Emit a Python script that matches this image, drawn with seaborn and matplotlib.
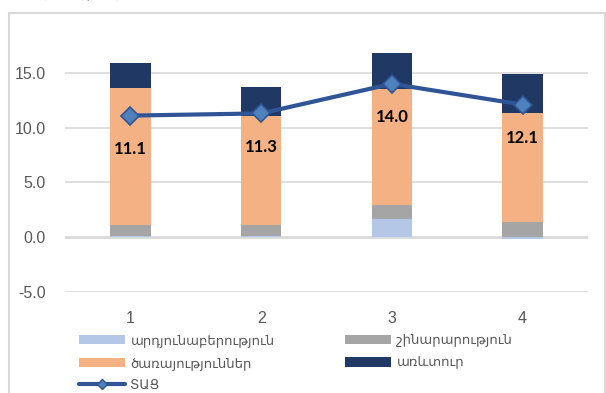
import numpy as np
import matplotlib
matplotlib.use("Agg")
import matplotlib.pyplot as plt
from matplotlib.patches import Patch, Rectangle
from matplotlib.lines import Line2D
import seaborn as sns

# Contributions by sector (percentage points) and the overall index
categories = ["1", "2", "3", "4"]
industry = [0.15, 0.1, 1.7, -0.2]
construction = [0.98, 1.0, 1.2, 1.35]
services = [12.5, 10.0, 10.6, 9.95]
trade = [2.27, 2.6, 3.3, 3.6]
tac = [11.1, 11.3, 14.0, 12.1]

series_names = ["արդյունաբերություն", "շինարարություն", "ծառայություններ", "առևտուր"]
line_name = "ՏԱՑ"
colors = ["#B4C7E7", "#A5A5A5", "#F4B183", "#203864"]
line_color = "#2F5597"
marker_face = "#4F81BD"
text_gray = "#595959"
grid_gray = "#D9D9D9"

sns.set_theme(style="white")
plt.rcParams["font.family"] = ["Liberation Sans", "DejaVu Sans"]

fig = plt.figure(figsize=(6.06, 3.93), dpi=100)
ax = fig.add_axes([65 / 606, 101 / 393, 523 / 606, 252 / 393])

# Stack positive values upward and negative values downward from zero
pos_base = np.zeros(len(categories))
neg_base = np.zeros(len(categories))
for vals, col in zip([industry, construction, services, trade], colors):
    vals = np.asarray(vals, dtype=float)
    bottoms = np.where(vals >= 0, pos_base, neg_base)
    sns.barplot(x=categories, y=vals, bottom=bottoms, color=col, width=0.31,
                order=categories, saturation=1, linewidth=0, ax=ax, zorder=3)
    pos_base = pos_base + np.where(vals >= 0, vals, 0)
    neg_base = neg_base + np.where(vals < 0, vals, 0)

xpos = np.arange(len(categories))
sns.lineplot(x=xpos, y=tac, color=line_color, lw=3, marker="D", markersize=9.5,
             markerfacecolor=marker_face, markeredgecolor=line_color,
             markeredgewidth=1.2, sort=False, ax=ax, zorder=5, legend=False)

for x, v in zip(xpos, tac):
    ax.annotate(f"{v:.1f}", (x, v), xytext=(0, -24), textcoords="offset points",
                ha="center", va="center", fontsize=12, fontweight="bold",
                family=["Lato", "DejaVu Sans"], color="black", zorder=6)

ax.set_xlim(-0.5, 3.5)
ax.set_ylim(-5, 18)
ax.set_yticks([-5, 0, 5, 10, 15])
ax.set_yticklabels([f"{t:.1f}" for t in [-5, 0, 5, 10, 15]])
for t in [-5, 5, 10, 15]:
    ax.axhline(t, color=grid_gray, lw=1.2, zorder=1)
ax.axhline(0, color=grid_gray, lw=2.0, zorder=1)
for s in ax.spines.values():
    s.set_visible(False)
ax.tick_params(axis="y", length=0, pad=14, labelsize=11.5, labelcolor=text_gray)
ax.tick_params(axis="x", length=0, pad=14, labelsize=11.5, labelcolor=text_gray)
ax.set_xlabel("")
ax.set_ylabel("")

# Chart frame
fig.patches.append(Rectangle((8.5 / 606, -0.02), (605 - 8.5) / 606, 1.02 - 12.5 / 393,
                             transform=fig.transFigure, fill=False,
                             edgecolor=grid_gray, lw=1.5))

# Unit note above the frame (runs past the top edge)
fig.text(10 / 606, 1.0 - 0.5 / 393, "(տոկոսային կետ, %)", ha="left", va="bottom",
         fontsize=11, style="italic", color="black",
         family=["Liberation Sans", "DejaVu Sans"])

patches = [Patch(facecolor=c, edgecolor="none") for c in colors]
line_handle = Line2D([], [], color=line_color, lw=3, marker="D", markersize=5,
                     markerfacecolor=marker_face, markeredgecolor=line_color)
leg_kw = dict(loc="upper left", frameon=False, borderpad=0, borderaxespad=0,
              handlelength=3.5, handletextpad=0.4, labelspacing=0.75,
              labelcolor=text_gray,
              prop={"family": ["Liberation Sans", "DejaVu Sans"], "size": 9.5})
leg1 = fig.legend([patches[0], patches[2], line_handle],
                  [series_names[0], series_names[2], line_name],
                  bbox_to_anchor=(79 / 606, 1 - 334 / 393), **leg_kw)
leg2 = fig.legend([patches[1], patches[3]],
                  [series_names[1], series_names[3]],
                  bbox_to_anchor=(345 / 606, 1 - 334 / 393), **leg_kw)

fig.savefig("out.png", dpi=100)
